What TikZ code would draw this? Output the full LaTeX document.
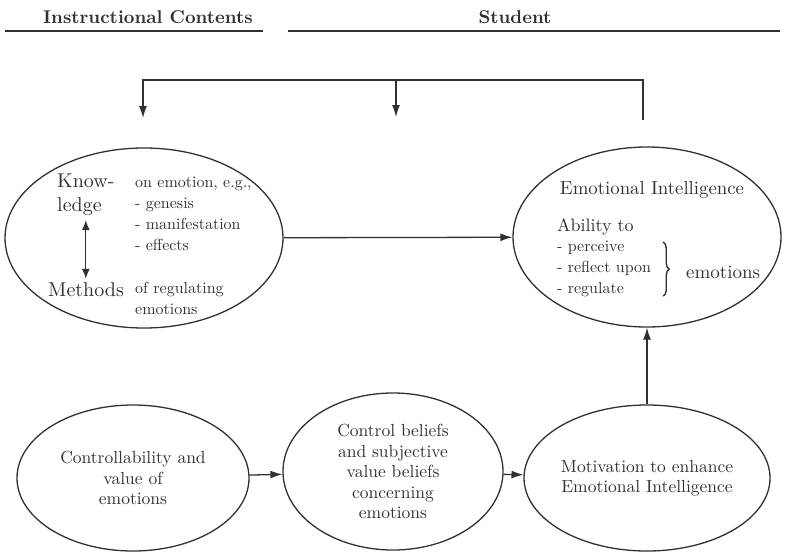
\documentclass[tikz,border=0pt]{standalone}
\usepackage{fontspec}
\setmainfont{lmroman10-regular.otf}[BoldFont=lmroman10-bold.otf]
\usepackage{tikz}
\usetikzlibrary{positioning,shapes,calc,arrows.meta,decorations.pathreplacing}
\definecolor{ink}{RGB}{52,47,49}

\begin{document}
\begin{tikzpicture}[x=1pt,y=-1pt,
    every node/.style={text=ink,inner sep=0pt},
    oval/.style={draw=ink,line width=1.3pt,ellipse,inner sep=0pt},
    arr/.style={draw=ink,line width=1.3pt,-{Latex[length=12pt,width=8pt]}},
    head/.style={font=\fontsize{18.5}{22}\bfseries\selectfont},
    big/.style={font=\fontsize{20}{24}\selectfont,align=left},
    mid/.style={font=\fontsize{17.5}{20.5}\selectfont,align=center},
    small/.style={font=\fontsize{16}{21}\selectfont,align=left}]

    \useasboundingbox (0,0) rectangle (791,551);

    % Header
    \node (hic) [head] at (148,17) {Instructional Contents};
    \node (hst) [head] at (515,17) {Student};
    \draw[ink,line width=1.6pt] (5,31) -- (263,31);
    \draw[ink,line width=1.6pt] (288,31) -- (780,31);

    % Define nodes
    \node (kn) [oval,minimum width=278,minimum height=180] at (144,238) {};
    \node (know) [big,anchor=north west] at (57,174) {Know-\\ledge};
    \node (meth) [big,anchor=west] at (48,290) {Methods};
    \node (onemo) [small,anchor=north west] at (135,177) {on emotion, e.g.,\\- genesis\\- manifestation\\- effects};
    \node (ofreg) [small,anchor=north west] at (135,282) {of regulating\\emotions};

    \node (ei) [oval,minimum width=268,minimum height=180] at (647,237) {};
    \node (eititle) [font=\fontsize{18.8}{22}\selectfont] at (652,190) {Emotional Intelligence};
    \node (abil) [font=\fontsize{18}{22}\selectfont,anchor=west] at (557,227) {Ability to};
    \node (ablist) [small,anchor=north west] at (557,241) {- perceive\\- reflect upon\\- regulate};
    \node (emo) [font=\fontsize{19}{22}\selectfont,anchor=west] at (686,272) {emotions};

    \node (ctrl) [oval,mid,minimum width=232,minimum height=146] at (133,478) {Controllability and\\value of\\emotions};
    \node (belief) [oval,mid,minimum width=220,minimum height=157] at (393,471.5) {Control beliefs\\and subjective\\value beliefs\\concerning\\emotions};
    \node (motiv) [oval,mid,minimum width=246,minimum height=146] at (647,478) {Motivation to enhance\\Emotional Intelligence};

    \coordinate (fbtop) at (396,80);
    \coordinate (fbL) at (143,118);
    \coordinate (fbM) at (396,117);
    \coordinate (fbR) at (643,120);

    % Draw arrows
    \draw[ink,line width=1.3pt,{Latex[length=10pt,width=8pt]}-{Latex[length=10pt,width=8pt]}]
        ([yshift=-4pt]know.south) -- ([yshift=4pt]know.south |- meth.north);
    \draw[ink,line width=1.4pt,decorate,decoration={brace,amplitude=6pt}]
        ([xshift=12pt,yshift=-1pt]ablist.north east) -- ([xshift=12pt,yshift=1pt]ablist.south east);

    \draw[arr] (kn) -- (ei);
    \draw[arr] (ctrl) -- (belief);
    \draw[arr] (belief) -- (motiv);
    \draw[arr] (motiv.north) -- (motiv.north |- ei.south);

    \draw[arr] (fbR) |- (fbtop) -| (fbL);
    \draw[arr] (fbtop) -- (fbM);
\end{tikzpicture}
\end{document}
